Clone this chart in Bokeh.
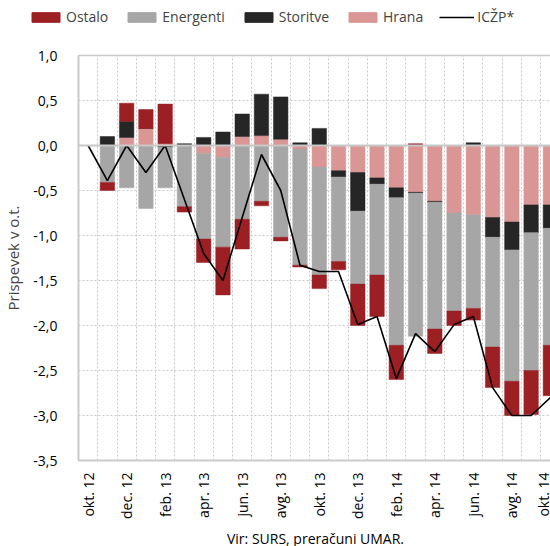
import math
import numpy as np
from bokeh.plotting import figure
from bokeh.models import (ColumnDataSource, Range1d, FixedTicker, Legend, LegendItem,
                          Span, Title)
from bokeh.embed import file_html
from bokeh.resources import INLINE

months = ["okt. 12", "nov. 12", "dec. 12", "jan. 13", "feb. 13", "mar. 13", "apr. 13",
          "maj. 13", "jun. 13", "jul. 13", "avg. 13", "sep. 13", "okt. 13", "nov. 13",
          "dec. 13", "jan. 14", "feb. 14", "mar. 14", "apr. 14", "maj. 14", "jun. 14",
          "jul. 14", "avg. 14", "sep. 14", "okt. 14"]

hrana = [0.0, 0.0, 0.09, 0.19, 0.02, 0.0, -0.09, -0.13, 0.10, 0.11, 0.07, -0.04, -0.24,
         -0.28, -0.30, -0.36, -0.47, -0.52, -0.62, -0.75, -0.77, -0.80, -0.85, -0.66, -0.66]
storitve = [0.0, 0.10, 0.18, 0.0, -0.02, 0.02, 0.09, 0.15, 0.25, 0.46, 0.47, 0.03, 0.19,
            -0.07, -0.43, -0.07, -0.11, -0.01, -0.01, 0.0, 0.03, -0.22, -0.31, -0.31, -0.26]
energenti = [0.0, -0.41, -0.47, -0.70, -0.45, -0.68, -0.95, -1.00, -0.82, -0.62, -1.02, -1.29,
             -1.20, -0.94, -0.81, -1.01, -1.64, -1.59, -1.41, -1.09, -1.04, -1.22, -1.46,
             -1.53, -1.30]
ostalo = [0.0, -0.09, 0.20, 0.21, 0.44, -0.06, -0.26, -0.53, -0.33, -0.05, -0.04, -0.02,
          -0.15, -0.09, -0.46, -0.46, -0.38, 0.02, -0.27, -0.16, -0.13, -0.45, -0.38,
          -0.49, -0.56]
iczp = [0.0, -0.39, 0.0, -0.30, 0.0, -0.6, -1.2, -1.5, -0.8, -0.1, -0.5, -1.33, -1.4, -1.4,
        -1.99, -1.9, -2.59, -2.09, -2.29, -1.99, -1.9, -2.69, -3.0, -3.0, -2.8]

y_ticks = [1.0, 0.5, 0.0, -0.5, -1.0, -1.5, -2.0, -2.5, -3.0, -3.5]

colors = {"Ostalo": "#9c1f23", "Energenti": "#a6a6a6", "Storitve": "#262626", "Hrana": "#da9694"}
FONT = "Open Sans"

x = np.arange(len(months))

# stacking from zero outward: Hrana, Storitve, Energenti, Ostalo
order = [("Hrana", hrana), ("Storitve", storitve), ("Energenti", energenti), ("Ostalo", ostalo)]
pos = np.zeros(len(x))
neg = np.zeros(len(x))
sources = {}
for name, vals in order:
    v = np.array(vals, dtype=float)
    bottom = np.where(v >= 0, pos, neg)
    top = bottom + v
    pos = np.where(v >= 0, pos + v, pos)
    neg = np.where(v < 0, neg + v, neg)
    sources[name] = ColumnDataSource(dict(x=x, bottom=bottom, top=top))
line_src = ColumnDataSource(dict(x=x, y=iczp))

p = figure(width=550, frame_width=474, frame_height=405, output_backend="svg",
           toolbar_location=None,
           x_range=Range1d(-0.5, 24.11), y_range=Range1d(-3.5, 1.0),
           min_border_left=76, min_border_right=0, min_border_top=10, min_border_bottom=84)
p.background_fill_color = "white"
p.border_fill_color = "white"
p.outline_line_color = "#c8c8c8"
p.outline_line_width = 1.5

for name, _ in order:
    p.vbar(x="x", width=0.75, bottom="bottom", top="top", source=sources[name],
           fill_color=colors[name], line_color=colors[name], line_width=0.5)

zero = Span(location=0, dimension="width", line_color="#c8c8c8", line_width=2)
p.add_layout(zero)
p.line("x", "y", source=line_src, line_color="black", line_width=1.6)

# axes
p.yaxis.ticker = FixedTicker(ticks=y_ticks)
p.yaxis.major_label_overrides = {t: f"{t:.1f}".replace(".", ",") for t in y_ticks}
p.yaxis.axis_label = "Prispevek v o.t."
p.yaxis.axis_label_text_font = FONT
p.yaxis.axis_label_text_font_style = "normal"
p.yaxis.axis_label_text_font_size = "15px"
p.yaxis.axis_label_standoff = 7
p.yaxis.major_label_text_font = FONT
p.yaxis.major_label_text_font_size = "14px"
p.yaxis.major_label_text_color = "black"
p.yaxis.major_label_standoff = 15
p.yaxis.major_tick_line_color = None
p.yaxis.minor_tick_line_color = None
p.yaxis.axis_line_color = "#c8c8c8"
p.yaxis.axis_line_width = 1.5

p.xaxis.ticker = FixedTicker(ticks=list(range(0, len(months), 2)))
p.xaxis.major_label_overrides = {i: months[i] for i in range(0, len(months), 2)}
p.xaxis.major_label_orientation = math.pi / 2
p.xaxis.major_label_text_font = FONT
p.xaxis.major_label_text_font_size = "14px"
p.xaxis.major_label_text_color = "black"
p.xaxis.major_label_standoff = 6
p.xaxis.major_tick_line_color = None
p.xaxis.minor_tick_line_color = None
p.xaxis.axis_line_color = "#c8c8c8"
p.xaxis.axis_line_width = 1.5

# grids
p.xgrid.ticker = FixedTicker(ticks=[i + 0.5 for i in range(len(months))])
p.xgrid.grid_line_color = "#c8c8c8"
p.xgrid.grid_line_dash = "2 2"
p.ygrid.ticker = FixedTicker(ticks=y_ticks)
p.ygrid.grid_line_color = "#c8c8c8"
p.ygrid.grid_line_dash = "2 2"

src_title = Title(text="Vir: SURS, preračuni UMAR.", align="center",
                  text_font=FONT, text_font_size="14px", text_font_style="normal",
                  text_color="black", standoff=10)
p.add_layout(src_title, "below")

# legend strip: its own small figure (ranges kept away from the data)
lf = figure(width=550, height=45, output_backend="svg", toolbar_location=None,
            x_range=Range1d(100, 101), y_range=Range1d(100, 101),
            min_border=0, min_border_left=0, min_border_right=0, min_border_top=0,
            min_border_bottom=0, x_axis_location=None, y_axis_location=None)
lf.grid.visible = False
lf.outline_line_color = None
lf.background_fill_color = "white"
lf.border_fill_color = "white"
leg_r = {}
for name, _ in order:
    leg_r[name] = lf.vbar(x="x", width=0.75, bottom="bottom", top="top",
                          source=sources[name], fill_color=colors[name],
                          line_color=colors[name])
leg_line = lf.line("x", "y", source=line_src, line_color="black", line_width=1.6)
items = [LegendItem(label=n, renderers=[leg_r[n]]) for n in ["Ostalo", "Energenti", "Storitve", "Hrana"]]
items.append(LegendItem(label="ICŽP*", renderers=[leg_line]))
legend = Legend(items=items, orientation="horizontal", location=(28, 19),
                glyph_width=35, glyph_height=12, label_standoff=3, spacing=16,
                padding=0, margin=0, border_line_color=None, background_fill_alpha=0,
                label_text_font=FONT, label_text_font_size="14px", label_height=14)
lf.add_layout(legend, "center")

open("out.html", "w").write(file_html([lf, p], INLINE))
